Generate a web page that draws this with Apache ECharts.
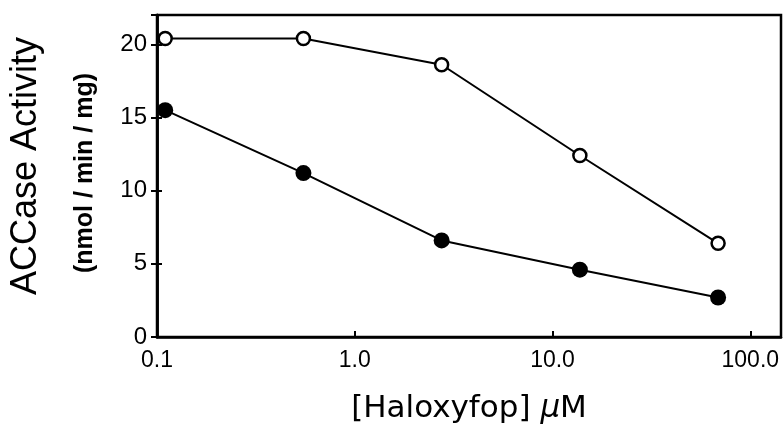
<!DOCTYPE html>
<html>
<head>
<meta charset="utf-8">
<script src="https://cdn.jsdelivr.net/npm/echarts@6/dist/echarts.min.js"></script>
<style>
  html, body { margin: 0; padding: 0; background: #fff; }
  #chart { width: 784px; height: 425px; }
</style>
</head>
<body>
<div id="chart"></div>
<script>
// Haloxyfop concentration (µM), five-fold dilution series
const concentrations = [0.11, 0.55, 2.75, 13.75, 68.75];
// ACCase activity (nmol / min / mg)
const openSeries = [20.4, 20.4, 18.6, 12.4, 6.4];
const filledSeries = [15.5, 11.2, 6.6, 4.6, 2.7];
// Axis tick labels
const xTickLabels = { 0.1: '0.1', 1: '1.0', 10: '10.0', 100: '100.0' };
const yTicks = [0, 5, 10, 15, 20];

const FONT = '"Liberation Sans", Arial, sans-serif';
const TITLE_FONT = '"DejaVu Sans", sans-serif';

const pairs = (xs, ys) => xs.map((x, i) => [x, ys[i]]);

const chart = echarts.init(document.getElementById('chart'), null, { renderer: 'canvas' });

const yCommon = {
  type: 'value',
  min: 0,
  max: 22,
  interval: 5,
  splitLine: { show: false },
  axisLine: { show: true, lineStyle: { color: '#000', width: 2.5 } }
};

chart.setOption({
  animation: false,
  backgroundColor: '#fff',
  grid: {
    left: 157, right: 3, top: 15, bottom: 88,
    containLabel: false,
    outerBoundsMode: 'none',
    show: true, borderColor: '#000', borderWidth: 2.5, backgroundColor: 'transparent'
  },
  xAxis: {
    type: 'log',
    logBase: 10,
    min: 0.1,
    max: 143,
    splitNumber: 3,
    splitLine: { show: false },
    axisLine: { show: true, onZero: false, lineStyle: { color: '#000', width: 2.5 } },
    axisTick: { show: true, inside: true, length: 6, lineStyle: { color: '#000', width: 2 } },
    minorTick: { show: false },
    axisLabel: {
      color: '#000', fontFamily: FONT, fontSize: 23, margin: 12,
      formatter: v => {
        const key = Math.log10(v);
        for (const k in xTickLabels) {
          if (Math.abs(Math.log10(+k) - key) < 1e-3) return xTickLabels[k];
        }
        return '';
      }
    },
    name: '[Haloxyfop] {mu|μ}M',
    nameLocation: 'middle',
    nameGap: 56,
    nameTextStyle: {
      color: '#000', fontFamily: TITLE_FONT, fontSize: 31,
      rich: { mu: { fontFamily: TITLE_FONT, fontSize: 31, fontStyle: 'italic', color: '#000' } }
    }
  },
  yAxis: [
    Object.assign({}, yCommon, {
      axisTick: { show: true, inside: false, length: 6, lineStyle: { color: '#000', width: 2 } },
      axisLabel: {
        color: '#000', fontFamily: FONT, fontSize: 24, margin: 10,
        formatter: v => (yTicks.includes(v) ? String(v) : '')
      }
    }),
    Object.assign({}, yCommon, {
      position: 'left',
      axisTick: { show: true, inside: true, length: 5, lineStyle: { color: '#000', width: 2 } },
      axisLabel: { show: false }
    })
  ],
  graphic: [
    {
      type: 'text',
      rotation: Math.PI / 2,
      x: 26, y: 166,
      style: {
        text: 'ACCase Activity', fill: '#000', font: '36px ' + FONT,
        align: 'center', verticalAlign: 'middle'
      }
    },
    {
      type: 'text',
      rotation: Math.PI / 2,
      x: 85, y: 173,
      style: {
        text: '(nmol / min / mg)', fill: '#000', font: 'bold 25px ' + FONT,
        align: 'center', verticalAlign: 'middle'
      }
    }
  ],
  series: [
    {
      type: 'line',
      data: pairs(concentrations, openSeries),
      symbol: 'circle',
      symbolSize: 13,
      lineStyle: { color: '#000', width: 2 },
      itemStyle: { color: '#fff', borderColor: '#000', borderWidth: 2.5 },
      z: 3
    },
    {
      type: 'line',
      data: pairs(concentrations, filledSeries),
      symbol: 'circle',
      symbolSize: 16,
      lineStyle: { color: '#000', width: 2 },
      itemStyle: { color: '#000', borderColor: '#000', borderWidth: 0 },
      z: 3
    }
  ]
});
</script>
</body>
</html>
